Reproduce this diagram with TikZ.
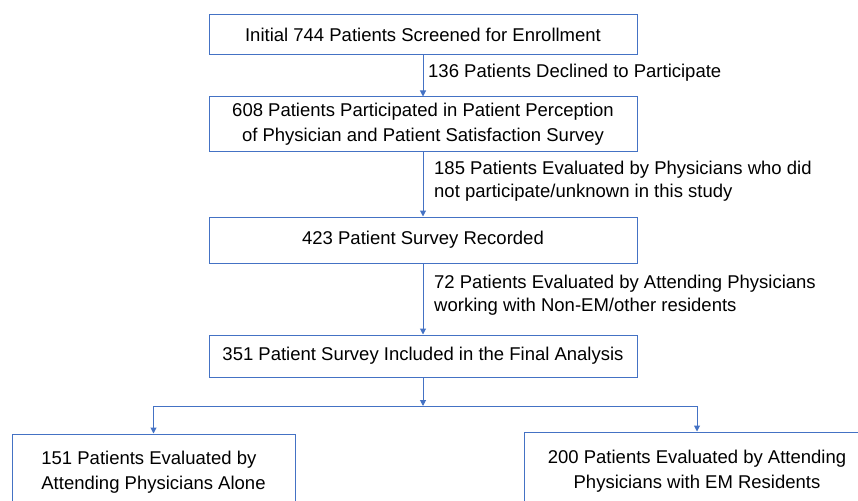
\documentclass[tikz,border=0pt]{standalone}
\usepackage{fontspec}
\setmainfont{Liberation Sans}
\usetikzlibrary{arrows.meta}
\definecolor{lineblue}{RGB}{68,114,196}
\begin{document}
\begin{tikzpicture}[x=1pt,y=-1pt,
  box/.style={draw=lineblue, line width=1pt, inner sep=0pt, align=center,
    font=\fontsize{18.5}{24.5}\selectfont},
  lbl/.style={anchor=west, align=left, inner sep=0pt, font=\fontsize{18.5}{23.5}\selectfont},
  conn/.style={draw=lineblue, line width=1pt, -{Triangle[width=6pt,length=6pt]}},
  plain/.style={draw=lineblue, line width=1pt}]
\useasboundingbox (0,0) rectangle (858,500);
\clip (0,0) rectangle (858,500);
\node[box, minimum width=428pt, minimum height=40pt] (b1) at (423,35) {Initial 744 Patients Screened for Enrollment};
\node[box, minimum width=428pt, minimum height=54pt] (b2) at (423,124) {608 Patients Participated in Patient Perception\\of Physician and Patient Satisfaction Survey};
\node[box, minimum width=428pt, minimum height=46pt] (b3) at (423,240) {423 Patient Survey Recorded};
\node[box, minimum width=428pt, minimum height=42pt] (b4) at (423,356) {351 Patient Survey Included in the Final Analysis};
\node[box, align=left, minimum width=283pt, minimum height=76pt] (b5) at (153.5,472) {151 Patients Evaluated by\\Attending Physicians Alone};
\node[box, minimum width=346pt, minimum height=78pt] (b6) at (697,471) {200 Patients Evaluated by Attending\\Physicians with EM Residents};
\node[lbl] (l1) at (428,73) {136 Patients Declined to Participate};
\node[lbl] (l2) at (434,181) {185 Patients Evaluated by Physicians who did\\not participate/unknown in this study};
\node[lbl] (l3) at (434,295) {72 Patients Evaluated by Attending Physicians\\working with Non-EM/other residents};
\coordinate (split) at (423,406);
\draw[conn] (b1.south) -- (b2.north);
\draw[conn] (b2.south) -- (b3.north);
\draw[conn] (b3.south) -- (b4.north);
\draw[conn] (b4.south) -- (split);
\draw[conn] (split) -| (b5.north);
\draw[conn] (split) -| (b6.north);
\end{tikzpicture}
\end{document}
